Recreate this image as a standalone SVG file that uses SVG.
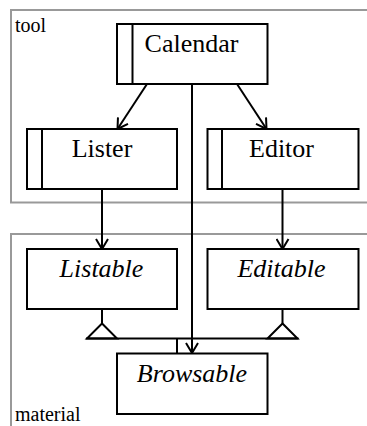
<svg xmlns="http://www.w3.org/2000/svg" width="367" height="426" viewBox="0 0 367 426">
  <style>
    .frame { fill: none; stroke: #999999; stroke-width: 2; }
    .box { fill: #ffffff; stroke: #000000; stroke-width: 2; }
    .bar { stroke: #000000; stroke-width: 2; }
    .edge { fill: none; stroke: #000000; stroke-width: 2; }
    text { font-family: "Times New Roman", Times, "Liberation Serif", Tinos, "Noto Serif", "DejaVu Serif", FreeSerif, serif; fill: #000000; }
    .label { font-size: 26px; text-anchor: middle; }
    .abstract { font-style: italic; }
    .pkg { font-size: 20px; }
  </style>
  <defs>
    <marker id="open" viewBox="0 0 14 14" refX="12" refY="7" markerWidth="14" markerHeight="14" markerUnits="userSpaceOnUse" orient="auto">
      <path d="M2,1 L12,7 L2,13" fill="none" stroke="#000000" stroke-width="2"/>
    </marker>
  </defs>

  <!-- package frames -->
  <g id="pkg-tool">
    <rect class="frame" x="11" y="10" width="380" height="192.5"/>
    <text class="pkg" x="15" y="32">tool</text>
  </g>
  <g id="pkg-material">
    <rect class="frame" x="11" y="234" width="380" height="220"/>
    <text class="pkg" x="15" y="421">material</text>
  </g>

  <!-- connectors -->
  <g id="connectors">
    <line class="edge" x1="147" y1="84" x2="117.5" y2="129" marker-end="url(#open)"/>
    <line class="edge" x1="237" y1="84" x2="266.5" y2="129" marker-end="url(#open)"/>
    <line class="edge" x1="192" y1="84" x2="192" y2="353" marker-end="url(#open)"/>
    <line class="edge" x1="102" y1="189" x2="102" y2="249" marker-end="url(#open)"/>
    <line class="edge" x1="282.5" y1="189" x2="282.5" y2="249" marker-end="url(#open)"/>
    <!-- generalization tree -->
    <line class="edge" x1="102" y1="309" x2="102" y2="323.5"/>
    <line class="edge" x1="282.5" y1="309" x2="282.5" y2="323.5"/>
    <path class="edge" d="M102,323.5 L87,338.5 L117,338.5 Z"/>
    <path class="edge" d="M282.5,323.5 L267.5,338.5 L297.5,338.5 Z"/>
    <line class="edge" x1="86" y1="338.5" x2="298.5" y2="338.5"/>
    <line class="edge" x1="177" y1="338.5" x2="177" y2="353.5"/>
  </g>

  <!-- nodes -->
  <g id="Calendar">
    <rect class="box" x="117" y="24" width="150.5" height="60"/>
    <line class="bar" x1="132.5" y1="24" x2="132.5" y2="84"/>
    <text class="label" x="191.5" y="52">Calendar</text>
  </g>
  <g id="Lister">
    <rect class="box" x="27" y="129" width="150" height="60"/>
    <line class="bar" x1="42" y1="129" x2="42" y2="189"/>
    <text class="label" x="102" y="157">Lister</text>
  </g>
  <g id="Editor">
    <rect class="box" x="207.5" y="129" width="151" height="60"/>
    <line class="bar" x1="222" y1="129" x2="222" y2="189"/>
    <text class="label" x="281.5" y="157">Editor</text>
  </g>
  <g id="Listable">
    <rect class="box" x="27" y="249" width="150" height="60"/>
    <text class="label abstract" x="101.5" y="277">Listable</text>
  </g>
  <g id="Editable">
    <rect class="box" x="207.5" y="249" width="151" height="60"/>
    <text class="label abstract" x="281.5" y="277">Editable</text>
  </g>
  <g id="Browsable">
    <rect class="box" x="117" y="353.5" width="150.5" height="60.5"/>
    <text class="label abstract" x="192" y="382">Browsable</text>
  </g>
</svg>
